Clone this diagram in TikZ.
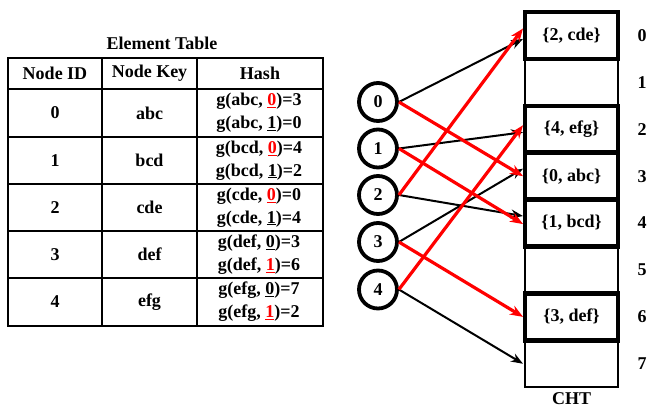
\documentclass[tikz,border=0pt]{standalone}
\usepackage{fontspec}
\setmainfont{Liberation Serif}
\usetikzlibrary{arrows.meta}
\begin{document}
\begin{tikzpicture}[x=1pt,y=-1pt,
  every node/.style={font=\fontsize{18}{23}\selectfont\bfseries, inner sep=0pt},
  tline/.style={line width=2.6pt},
  cell/.style={draw, line width=2pt, minimum width=93pt, minimum height=46.9pt},
  tcell/.style={draw, line width=4.5pt, minimum width=93pt, minimum height=46.9pt},
  circ/.style={draw, circle, line width=3.8pt, minimum size=38pt},
  blk/.style={line width=2pt, -{Stealth[length=12pt,width=9pt]}},
  rd/.style={line width=3.2pt, red, -{Stealth[length=13pt,width=10pt]}},
]
\useasboundingbox (0,0) rectangle (650,409);
% ---------- Element table ----------
\node (title) at (162,43) {Element Table};
\draw[tline] (8,58) rectangle (323,326);
\foreach \y in {89,137,184,231,278} \draw[tline] (8,\y) -- (323,\y);
\foreach \x in {102,197} \draw[tline] (\x,58) -- (\x,326);
\node (h1) at (55,73.5) {Node ID};
\node (h2) at (149.5,73.5) {Node Key};
\node (h3) at (260,73.5) {Hash};
\newcommand{\ru}[1]{\textcolor{red}{\underline{#1}}}
\newcommand{\bu}[1]{\underline{#1}}
\foreach \i/\k/\a/\b/\ya [count=\r from 0] in {
  0/abc/{\ru{0})=3}/{\bu{1})=0}/113,
  1/bcd/{\ru{0})=4}/{\bu{1})=2}/160.5,
  2/cde/{\ru{0})=0}/{\bu{1})=4}/207.5,
  3/def/{\bu{0})=3}/{\ru{1})=6}/254.5,
  4/efg/{\bu{0})=7}/{\ru{1})=2}/302}{
  \node (id\r) at (55,\ya) {\i};
  \node (key\r) at (149.5,\ya) {\k};
  \node (hasha\r) at (259,\ya-11.5) {g(\k, \a};
  \node (hashb\r) at (259,\ya+11.5) {g(\k, \b};
}
% ---------- CHT ----------
\foreach \i in {0,...,7} {
  \node[cell] (c\i) at (571.5,{12+46.9*\i+23.45}) {};
  \node (l\i) at (642,{12+46.9*\i+23.45}) {\i};
}
\node[tcell] (t0) at (c0) {\{2, cde\}};
\node[tcell] (t2) at (c2) {\{4, efg\}};
\node[tcell] (t3) at (c3) {\{0, abc\}};
\node[tcell] (t4) at (c4) {\{1, bcd\}};
\node[tcell] (t6) at (c6) {\{3, def\}};
\node (cht) at (571.5,399) {CHT};
% ---------- circles ----------
\foreach \i/\y in {0/102,1/148.5,2/195,3/242,4/289.5}
  \node[circ] (n\i) at (378,\y) {\i};
% ---------- arrows ----------
\draw[blk] (n0.east) -- ([xshift=-1pt,yshift=-3.5pt]c0.west);
\draw[blk] (n1.east) -- ([xshift=-1pt,yshift=-3pt]c2.west);
\draw[blk] (n2.east) -- ([xshift=-1pt,yshift=7pt]c4.west);
\draw[blk] (n3.east) -- ([xshift=-1pt,yshift=7.5pt]c3.west);
\draw[blk] (n4.east) -- ([xshift=-1pt,yshift=0pt]c7.west);
\draw[rd] (n0.east) -- ([xshift=-1pt,yshift=0pt]c3.west);
\draw[rd] (n1.east) -- ([xshift=-1pt,yshift=-1pt]c4.west);
\draw[rd] (n2.east) -- ([xshift=-1pt,yshift=7pt]c0.west);
\draw[rd] (n3.east) -- ([xshift=-1pt,yshift=0pt]c6.west);
\draw[rd] (n4.east) -- ([xshift=-1pt,yshift=4pt]c2.west);
\end{tikzpicture}
\end{document}
